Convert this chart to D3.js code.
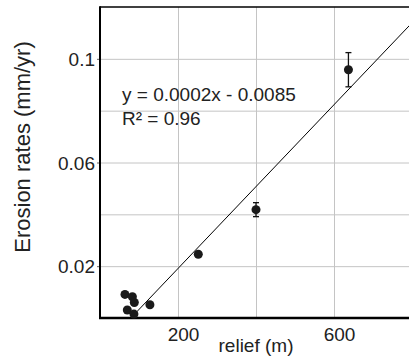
<!DOCTYPE html>
<html>
<head>
<meta charset="utf-8">
<script src="https://cdn.jsdelivr.net/npm/d3@7"></script>
<style>
  body { margin: 0; background: #fff; }
  svg text { font-family: "Liberation Sans", Arial, sans-serif; fill: #222; }
</style>
</head>
<body>
<svg id="chart" width="409" height="364"></svg>
<script>
// relief (m) vs erosion rate (mm/yr)
const relief = [64, 83, 88, 70, 87, 128, 252, 400, 637];
const erosion = [0.0091, 0.0082, 0.006, 0.0031, 0.0015, 0.0051, 0.0246, 0.0418, 0.0958];
const errors = [0, 0, 0, 0, 0, 0, 0.0008, 0.0027, 0.0066];

// trend line as drawn in the figure
const slope = 0.000158;
const intercept = -0.0125;
const trendText = ["y = 0.0002x - 0.0085", "R² = 0.96"];

const xGrid = [200, 400, 600];
const xLabels = [200, 600];
const yGrid = [0.02, 0.04, 0.06, 0.08, 0.1];
const yLabels = [0.02, 0.06, 0.1];

const svg = d3.select('#chart');
const mLeft = 100, mRight = 412, mTop = 7, mBottom = 318;

const x = d3.scaleLinear().domain([0, 800]).range([mLeft, mRight]);
const y = d3.scaleLinear().domain([0, 0.12]).range([mBottom, mTop]);

svg.append('defs').append('clipPath').attr('id', 'plot')
  .append('rect').attr('x', mLeft).attr('y', mTop)
  .attr('width', mRight - mLeft).attr('height', mBottom - mTop);

// gridlines
svg.append('g')
  .attr('transform', `translate(0,${mBottom})`)
  .call(d3.axisBottom(x).tickValues(xGrid).tickSize(-(mBottom - mTop)).tickFormat(''))
  .call(g => g.select('.domain').remove())
  .call(g => g.selectAll('line').attr('stroke', '#c4c4c4'));

svg.append('g')
  .attr('transform', `translate(${mLeft},0)`)
  .call(d3.axisLeft(y).tickValues(yGrid).tickSize(-(mRight - mLeft)).tickFormat(''))
  .call(g => g.select('.domain').remove())
  .call(g => g.selectAll('line').attr('stroke', '#c4c4c4'));

// tick labels
const xAx = svg.append('g')
  .attr('transform', `translate(0,${mBottom})`)
  .call(d3.axisBottom(x).tickValues(xLabels).tickSize(0).tickPadding(0).tickFormat(d3.format('d')));
xAx.select('.domain').remove();
xAx.selectAll('text').attr('dx', 5).attr('y', 23).attr('dy', 0)
  .style('font-size', '19px').attr('fill', '#222');

const yAx = svg.append('g')
  .attr('transform', `translate(${mLeft},0)`)
  .call(d3.axisLeft(y).tickValues(yLabels).tickSize(3).tickFormat(d => d3.format('')(+d.toFixed(2))));
yAx.select('.domain').remove();
yAx.selectAll('line').attr('stroke', '#666');
yAx.selectAll('text').attr('x', -5).attr('dy', '0.35em')
  .style('font-size', '19px').attr('fill', '#222');

// frame
svg.append('line').attr('x1', mLeft).attr('x2', mRight).attr('y1', mTop).attr('y2', mTop)
  .attr('stroke', '#000').attr('stroke-width', 1.5);
svg.append('line').attr('x1', mLeft).attr('x2', mLeft).attr('y1', mTop - 0.75).attr('y2', mBottom + 1)
  .attr('stroke', '#000').attr('stroke-width', 2);
svg.append('line').attr('x1', mLeft - 1).attr('x2', mRight).attr('y1', mBottom).attr('y2', mBottom)
  .attr('stroke', '#000').attr('stroke-width', 2.5);

// trend line
const x0 = -intercept / slope;
svg.append('line')
  .attr('clip-path', 'url(#plot)')
  .attr('x1', x(x0)).attr('y1', y(0))
  .attr('x2', x(800)).attr('y2', y(slope * 800 + intercept))
  .attr('stroke', '#000').attr('stroke-width', 1);

// error bars
const pts = relief.map((r, i) => ({ r: r, e: erosion[i], err: errors[i] }));
const eb = svg.append('g').attr('stroke', '#111').attr('stroke-width', 1.3);
pts.filter(d => d.err > 0).forEach(d => {
  eb.append('line').attr('x1', x(d.r)).attr('x2', x(d.r))
    .attr('y1', y(d.e - d.err)).attr('y2', y(d.e + d.err));
  [d.e - d.err, d.e + d.err].forEach(v => {
    eb.append('line').attr('x1', x(d.r) - 3).attr('x2', x(d.r) + 3)
      .attr('y1', y(v)).attr('y2', y(v));
  });
});

// points
svg.append('g').selectAll('circle')
  .data(pts)
  .join('circle')
  .attr('cx', d => x(d.r))
  .attr('cy', d => y(d.e))
  .attr('r', 4.5)
  .attr('fill', '#1a1a1a');

// equation
svg.append('g').selectAll('text')
  .data(trendText)
  .join('text')
  .attr('x', 122)
  .attr('y', (d, i) => 101 + i * 24)
  .style('font-size', '19px')
  .text(d => d);

// axis titles
svg.append('text')
  .attr('x', 256).attr('y', 352)
  .attr('text-anchor', 'middle')
  .style('font-size', '19px')
  .attr('fill', '#333')
  .text('relief (m)');

svg.append('text')
  .attr('transform', 'translate(30,147) rotate(-90)')
  .attr('text-anchor', 'middle')
  .style('font-size', '22px')
  .attr('fill', '#333')
  .text('Erosion rates (mm/yr)');
</script>
</body>
</html>
